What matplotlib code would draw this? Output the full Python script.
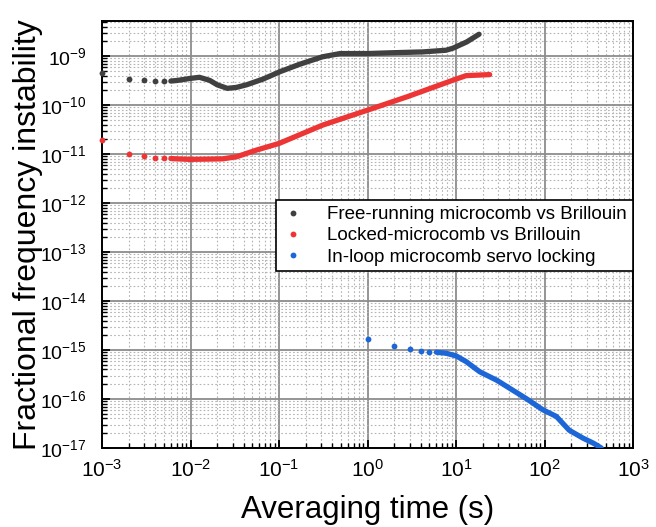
import numpy as np
import matplotlib
matplotlib.use("Agg")
import matplotlib.pyplot as plt
from matplotlib.ticker import LogLocator, NullFormatter
from matplotlib.lines import Line2D

plt.rcParams['font.family'] = ['Liberation Sans', 'DejaVu Sans']
plt.rcParams['mathtext.default'] = 'regular'

# free-running microcomb vs Brillouin
free_tau_pts = [1e-3, 2e-3, 3e-3, 4e-3, 5e-3]
free_adev_pts = [4.6e-10, 3.4e-10, 3.2e-10, 3.1e-10, 3.1e-10]
free_tau = [6e-3, 7.2e-3, 9.8e-3, 1.26e-2, 1.65e-2, 2.0e-2, 2.6e-2, 3.3e-2, 4.3e-2,
            6.6e-2, 0.102, 0.17, 0.31, 0.49, 1.0, 1.8, 4.2, 7.7, 9.2, 13.2, 18.2]
free_adev = [3.1e-10, 3.2e-10, 3.5e-10, 3.7e-10, 3.2e-10, 2.6e-10, 2.2e-10, 2.3e-10, 2.6e-10,
             3.4e-10, 4.8e-10, 6.8e-10, 9.7e-10, 1.13e-9, 1.13e-9, 1.17e-9, 1.22e-9, 1.32e-9,
             1.45e-9, 1.95e-9, 2.8e-9]

# locked microcomb vs Brillouin
lock_tau_pts = [1e-3, 2e-3, 3e-3, 4e-3, 5e-3]
lock_adev_pts = [1.95e-11, 1.0e-11, 9.1e-12, 8.5e-12, 8.3e-12]
lock_tau = [6e-3, 9.8e-3, 2.3e-2, 3.3e-2, 5.5e-2, 0.10, 0.31, 1.0, 2.8, 5.5, 10, 13, 24]
lock_adev = [8.1e-12, 7.8e-12, 8.0e-12, 8.8e-12, 1.2e-11, 1.65e-11, 3.9e-11, 7.9e-11,
             1.48e-10, 2.3e-10, 3.4e-10, 4.0e-10, 4.2e-10]

# in-loop servo locking
loop_tau_pts = [1, 2, 3, 4, 5]
loop_adev_pts = [1.67e-15, 1.2e-15, 1.03e-15, 9.6e-16, 9.1e-16]
loop_tau = [6, 7.7, 10, 13, 18.5, 29, 44, 62, 96, 136, 190, 273, 357, 437]
loop_adev = [9.0e-16, 8.6e-16, 7.6e-16, 5.8e-16, 3.6e-16, 2.4e-16, 1.5e-16, 1.02e-16,
             6e-17, 4.4e-17, 2.3e-17, 1.58e-17, 1.25e-17, 1.0e-17]

labels = ['Free-running microcomb vs Brillouin',
          'Locked-microcomb vs Brillouin',
          'In-loop microcomb servo locking']
colors = ['#404040', '#ee3535', '#1c66d8']

fig = plt.figure(figsize=(6.56, 5.27), dpi=100)
ax = fig.add_axes([0.1555, 0.150, 0.8095, 0.810])

series = [(free_tau_pts, free_adev_pts, free_tau, free_adev),
          (lock_tau_pts, lock_adev_pts, lock_tau, lock_adev),
          (loop_tau_pts, loop_adev_pts, loop_tau, loop_adev)]
for (tp, ap, t, a), c in zip(series, colors):
    ax.plot(tp, ap, 'o', color=c, ms=4.2, mec='none', clip_on=False, zorder=3)
    ax.plot(t, a, '-', color=c, lw=3.8, solid_capstyle='round', zorder=3)

ax.set_xscale('log')
ax.set_yscale('log')
ax.set_xlim(1e-3, 1e3)
ax.set_ylim(1e-17, 5.2e-9)

ax.xaxis.set_major_locator(LogLocator(base=10, numticks=20))
ax.yaxis.set_major_locator(LogLocator(base=10, numticks=20))
ax.xaxis.set_minor_locator(LogLocator(base=10, subs=np.arange(2, 10), numticks=50))
ax.yaxis.set_minor_locator(LogLocator(base=10, subs=np.arange(2, 10), numticks=50))
ax.xaxis.set_minor_formatter(NullFormatter())
ax.yaxis.set_minor_formatter(NullFormatter())

ax.grid(True, which='major', color='#8c8c8c', lw=1.3, ls='-')
ax.grid(True, which='minor', color='#b4b4b4', lw=0.8, ls=(0, (1.5, 2)))
ax.set_axisbelow(True)

ax.tick_params(which='both', direction='in', top=False, right=False)
ax.tick_params(axis='x', which='major', labelsize=15, pad=8)
ax.tick_params(axis='y', which='major', labelsize=14, pad=11)
ax.tick_params(which='major', length=6, width=1.3)
ax.tick_params(which='minor', length=3.5, width=1)
for s in ax.spines.values():
    s.set_linewidth(1.4)
    s.set_color('black')

ax.set_xlabel('Averaging time (s)', fontsize=22.5, labelpad=10)
ax.set_ylabel('Fractional frequency instability', fontsize=23, labelpad=-2)

handles = [Line2D([], [], ls='none', marker='o', color=c, ms=4.2, mec='none') for c in colors]
leg = ax.legend(handles, labels, loc='upper left', bbox_to_anchor=(0.327, 0.580),
                fontsize=13.5, frameon=True, fancybox=False, framealpha=1,
                edgecolor='black', handlelength=1.2, handletextpad=1.25,
                borderpad=0.3, labelspacing=0.22, borderaxespad=0)
leg.get_frame().set_linewidth(1.2)

fig.savefig('out.png', dpi=100)
